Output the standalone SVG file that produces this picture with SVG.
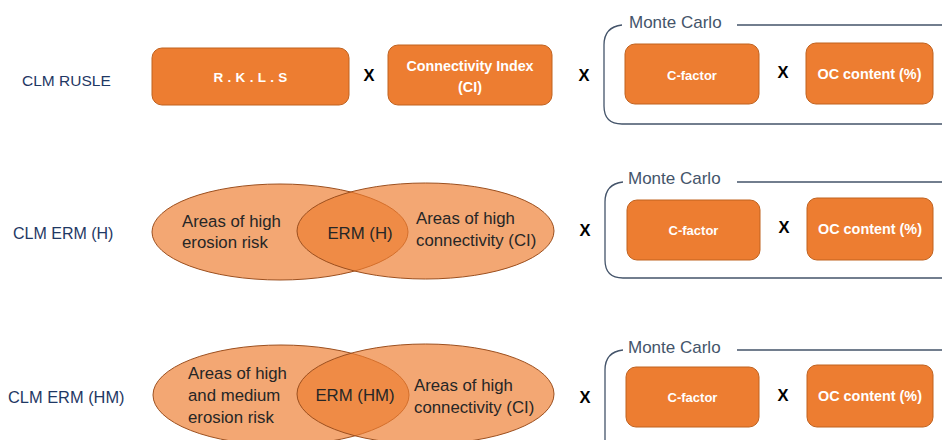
<svg xmlns="http://www.w3.org/2000/svg" width="942" height="440" viewBox="0 0 942 440">
<style>
  .lbl { font-family: "Liberation Sans", Arial, sans-serif; fill: #1F3864; dominant-baseline: central; }
  .box { fill: #ED7D31; stroke: #C0621F; stroke-width: 1; }
  .bt { font-family: "Liberation Sans", Arial, sans-serif; font-weight: bold; fill: #FFFFFF; text-anchor: middle; dominant-baseline: central; }
  .op { font-family: "Liberation Sans", Arial, sans-serif; font-weight: bold; font-size: 16.5px; fill: #000000; text-anchor: middle; dominant-baseline: central; }
  .ell { fill: #ED7D31; fill-opacity: 0.68; stroke: #9C4F1E; stroke-width: 1; }
  .et { font-family: "Liberation Sans", Arial, sans-serif; font-size: 16.8px; fill: #262626; dominant-baseline: central; }
  .frame { fill: none; stroke: #44546A; stroke-width: 1.3; }
  .mc { font-family: "Liberation Sans", Arial, sans-serif; font-size: 17px; fill: #44546A; dominant-baseline: central; }
</style>
<rect width="942" height="440" fill="#FFFFFF"/>

<!-- Row labels -->
<g id="label-rusle"><text class="lbl" x="22" y="80" font-size="15.5">CLM RUSLE</text></g>
<g id="label-erm-h"><text class="lbl" x="13" y="233" font-size="16">CLM ERM (H)</text></g>
<g id="label-erm-hm"><text class="lbl" x="8" y="397" font-size="16.4">CLM ERM (HM)</text></g>

<!-- Row 1 -->
<g id="rkls">
  <rect class="box" x="152" y="48" width="197" height="57" rx="10"/>
  <text class="bt" x="250.5" y="77" font-size="13.5" letter-spacing="0.3">R . K . L . S</text>
</g>
<g id="ci">
  <rect class="box" x="388" y="45" width="164" height="60" rx="10"/>
  <text class="bt" x="470" y="66" font-size="14.3">Connectivity Index</text>
  <text class="bt" x="470" y="87" font-size="14.3">(CI)</text>
</g>
<g id="mc1">
  <path class="frame" d="M622,25 Q604,27 604,45 L604,106 Q604,124 622,124 L942,124 M737,25 L942,25"/>
  <text class="mc" x="629" y="22">Monte Carlo</text>
</g>
<g id="cfactor1">
  <rect class="box" x="625" y="44" width="134" height="60" rx="10"/>
  <text class="bt" x="692" y="75" font-size="13">C-factor</text>
</g>
<g id="oc1">
  <rect class="box" x="806" y="43" width="127" height="61" rx="10"/>
  <text class="bt" x="869.5" y="74" font-size="14.4">OC content (%)</text>
</g>

<!-- Row 2 -->
<g id="erm-h">
  <ellipse class="ell" cx="280" cy="232" rx="128" ry="48"/>
  <ellipse class="ell" cx="425.5" cy="231" rx="128.5" ry="48"/>
  <text class="et" x="182" y="221">Areas of high</text>
  <text class="et" x="182" y="242">erosion risk</text>
  <text class="et" x="360" y="233" text-anchor="middle">ERM (H)</text>
  <text class="et" x="416" y="218">Areas of high</text>
  <text class="et" x="416" y="240">connectivity (CI)</text>
</g>
<g id="mc2">
  <path class="frame" d="M623,182 Q605,184 605,202 L605,260 Q605,278 623,278 L942,278 M737,182 L942,182"/>
  <text class="mc" x="628" y="178">Monte Carlo</text>
</g>
<g id="cfactor2">
  <rect class="box" x="627" y="200" width="133" height="60" rx="10"/>
  <text class="bt" x="693.5" y="230" font-size="13">C-factor</text>
</g>
<g id="oc2">
  <rect class="box" x="807" y="198" width="126" height="62" rx="10"/>
  <text class="bt" x="870" y="229" font-size="14.4">OC content (%)</text>
</g>

<!-- Row 3 -->
<g id="erm-hm">
  <ellipse class="ell" cx="281" cy="395" rx="128" ry="50"/>
  <ellipse class="ell" cx="425.5" cy="394" rx="128.5" ry="50"/>
  <text class="et" x="188" y="373">Areas of high</text>
  <text class="et" x="188" y="395">and medium</text>
  <text class="et" x="188" y="417">erosion risk</text>
  <text class="et" x="355" y="395" text-anchor="middle">ERM (HM)</text>
  <text class="et" x="414" y="385">Areas of high</text>
  <text class="et" x="414" y="407">connectivity (CI)</text>
</g>
<g id="mc3">
  <path class="frame" d="M623,350 Q605,352 605,370 L605,442 M737,350 L942,350"/>
  <text class="mc" x="628" y="347">Monte Carlo</text>
</g>
<g id="cfactor3">
  <rect class="box" x="626" y="367" width="133" height="60" rx="10"/>
  <text class="bt" x="692.5" y="397" font-size="13">C-factor</text>
</g>
<g id="oc3">
  <rect class="box" x="807" y="365" width="126" height="62" rx="10"/>
  <text class="bt" x="870" y="396" font-size="14.4">OC content (%)</text>
</g>

<!-- Operators (no line connectors in the picture) -->
<g id="connectors">
  <text class="op" x="369" y="75">X</text>
  <text class="op" x="584" y="75">X</text>
  <text class="op" x="783" y="72">X</text>
  <text class="op" x="585" y="230">X</text>
  <text class="op" x="784" y="227">X</text>
  <text class="op" x="585" y="397">X</text>
  <text class="op" x="783" y="395">X</text>
</g>
</svg>
